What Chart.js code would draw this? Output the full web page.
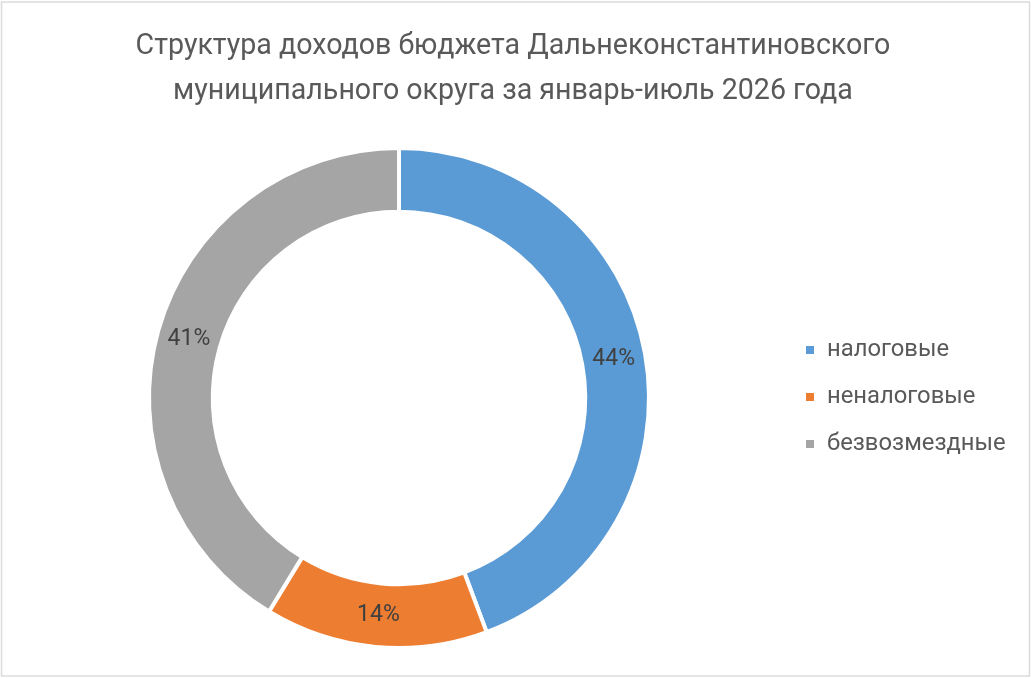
<!DOCTYPE html>
<html>
<head>
<meta charset="utf-8">
<script src="https://cdn.jsdelivr.net/npm/chart.js@4/dist/chart.umd.min.js"></script>
<style>
html,body{margin:0;padding:0;background:#fff;}
#wrap{width:1031px;height:678px;position:relative;}
</style>
</head>
<body>
<div id="wrap"><canvas id="c" width="1031" height="678"></canvas></div>
<script>
const titleLines = ["Структура доходов бюджета Дальнеконстантиновского", "муниципального округа за январь-июль 2026 года"];
const categories = ["налоговые", "неналоговые", "безвозмездные"];
const shares = [44.3, 14.4, 41.3];
const shareLabels = ["44%", "14%", "41%"];
const colors = ["#5B9BD5", "#ED7D31", "#A5A5A5"];

const decor = {
  id: 'decor',
  beforeDraw(chart) {
    const ctx = chart.ctx;
    ctx.save();
    ctx.fillStyle = '#fff';
    ctx.fillRect(0, 0, chart.width, chart.height);
    ctx.strokeStyle = '#dcdcdc';
    ctx.lineWidth = 1.5;
    ctx.strokeRect(1.5, 2, chart.width - 3, chart.height - 4);
    ctx.restore();
  },
  afterDraw(chart) {
    const ctx = chart.ctx;
    ctx.save();
    // title
    ctx.fillStyle = '#595959';
    ctx.font = '28.6px Roboto';
    ctx.textAlign = 'center';
    ctx.textBaseline = 'middle';
    ctx.fillText(titleLines[0], 513, 47);
    ctx.fillText(titleLines[1], 513, 92);
    // data labels
    const meta = chart.getDatasetMeta(0);
    ctx.fillStyle = '#404040';
    ctx.font = '23px Roboto';
    meta.data.forEach((arc, i) => {
      const p = arc.tooltipPosition();
      ctx.fillText(shareLabels[i], p.x, p.y);
    });
    // legend
    ctx.textAlign = 'left';
    ctx.font = '23.8px Roboto';
    categories.forEach((c, i) => {
      const y = 350 + i * 47;
      ctx.fillStyle = colors[i];
      ctx.fillRect(806, y - 4, 8, 8);
      ctx.fillStyle = '#595959';
      ctx.fillText(c, 827, y);
    });
    ctx.restore();
  }
};

new Chart(document.getElementById('c'), {
  type: 'doughnut',
  data: {
    labels: categories,
    datasets: [{
      data: shares,
      backgroundColor: colors,
      borderColor: '#ffffff',
      borderWidth: 4
    }]
  },
  options: {
    responsive: false,
    animation: false,
    cutout: '74.5%',
    layout: { padding: { left: 147, right: 380, top: 146, bottom: 28 } },
    plugins: {
      legend: { display: false },
      title: { display: false },
      tooltip: { enabled: false }
    }
  },
  plugins: [decor]
});
</script>
</body>
</html>
